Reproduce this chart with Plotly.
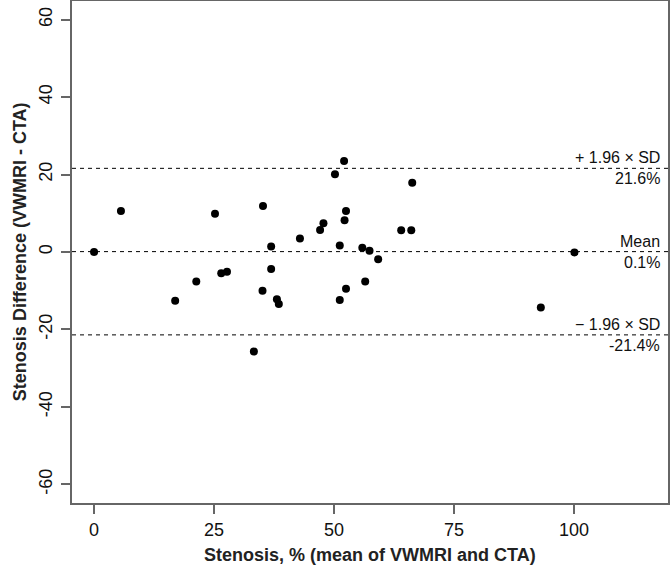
import plotly.graph_objects as go

# Data
mean_stenosis = [0.0, 5.6, 16.9, 21.3, 25.2, 26.5, 27.7, 33.3, 35.1, 35.2, 36.9,
                 36.9, 38.1, 38.5, 42.9, 47.1, 47.8, 50.2, 51.2, 51.2, 52.1, 52.2,
                 52.5, 52.5, 55.9, 56.5, 57.4, 59.2, 64.0, 66.1, 66.3, 93.1, 100.1]
diff_stenosis = [0.0, 10.6, -12.6, -7.6, 9.9, -5.5, -5.1, -25.7, -10.0, 11.9, 1.4,
                 -4.4, -12.2, -13.4, 3.5, 5.7, 7.4, 20.1, 1.7, -12.4, 23.5, 8.2,
                 10.6, -9.5, 1.1, -7.6, 0.3, -1.9, 5.6, 5.6, 17.9, -14.3, -0.1]

mean_diff = 0.1
upper_loa = 21.6
lower_loa = -21.4

x_ticks = [0, 25, 50, 75, 100]
y_ticks = [-60, -40, -20, 0, 20, 40, 60]
y_tick_labels = [str(v) for v in y_ticks]

x_title = "Stenosis, % (mean of VWMRI and CTA)"
y_title = "Stenosis Difference (VWMRI - CTA)"

FONT = "Arial, Liberation Sans, sans-serif"

fig = go.Figure()

fig.add_trace(go.Scatter(
    x=mean_stenosis, y=diff_stenosis, mode="markers",
    marker=dict(color="black", size=8, line=dict(width=0)),
    showlegend=False, hoverinfo="x+y"))

for val in (mean_diff, upper_loa, lower_loa):
    fig.add_shape(type="line", xref="paper", x0=0, x1=1, yref="y", y0=val, y1=val,
                  line=dict(color="black", width=1, dash="4px,4px"))

ann_font = dict(family=FONT, size=16, color="#111")
labels = [
    (upper_loa, "+ 1.96 × SD", f"{upper_loa:.1f}%"),
    (mean_diff, "Mean", f"{mean_diff:.1f}%"),
    (lower_loa, "− 1.96 × SD", f"{lower_loa:.1f}%"),
]
for val, above, below in labels:
    fig.add_annotation(x=0.99, xref="paper", y=val, yref="y", text=above,
                       showarrow=False, xanchor="right", yanchor="bottom",
                       yshift=0, font=ann_font)
    fig.add_annotation(x=0.99, xref="paper", y=val, yref="y", text=below,
                       showarrow=False, xanchor="right", yanchor="top",
                       yshift=0, font=ann_font)

title_font = dict(family=FONT, size=18, color="#222")
fig.add_annotation(x=0.5, xref="paper", y=-0.104, yref="paper",
                   text=f"<b>{x_title}</b>", showarrow=False,
                   xanchor="center", yanchor="middle", font=title_font)
fig.add_annotation(x=-0.087, xref="paper", y=0.5, yref="paper",
                   text=f"<b>{y_title}</b>", showarrow=False, textangle=-90,
                   xanchor="center", yanchor="middle", font=title_font)

axis_common = dict(
    showline=True, linecolor="#666", linewidth=2, mirror=True,
    showgrid=False, zeroline=False, automargin=False,
    ticks="outside", ticklen=9, tickwidth=1.5, tickcolor="#666",
    tickfont=dict(family=FONT, size=18, color="#111"),
)

fig.update_xaxes(range=[-4.6, 119.6], tickvals=x_ticks, **axis_common)
fig.update_yaxes(range=[-64.8, 64.8], tickvals=y_ticks, ticktext=y_tick_labels,
                 tickangle=-90, ticklabelstandoff=2, **axis_common)

fig.update_layout(
    width=670, height=576,
    margin=dict(l=72, r=2, t=1, b=73),
    paper_bgcolor="white", plot_bgcolor="white",
    font=dict(family=FONT),
)

fig.write_html("out.html", config={"displayModeBar": False},
               post_script="document.body.style.margin='0';document.body.style.overflow='hidden';")
